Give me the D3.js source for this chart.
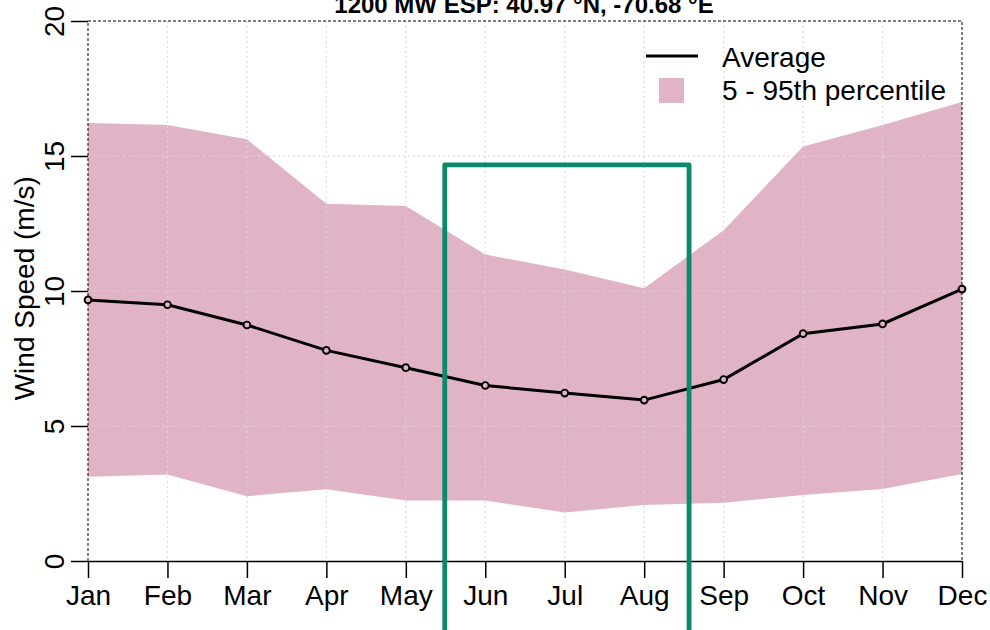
<!DOCTYPE html>
<html>
<head>
<meta charset="utf-8">
<title>1200 MW ESP wind speed</title>
<script src="https://d3js.org/d3.v7.min.js"></script>
<style>
  body { margin: 0; background: #fff; }
  text { font-family: "Liberation Sans", Arial, sans-serif; fill: #000; }
</style>
</head>
<body>
<svg width="990" height="630"></svg>
<script>
var months = ["Jan","Feb","Mar","Apr","May","Jun","Jul","Aug","Sep","Oct","Nov","Dec"]
var average = [9.67, 9.49, 8.74, 7.8, 7.16, 6.5, 6.22, 5.96, 6.72, 8.42, 8.78, 10.07]
var p5  = [3.12, 3.2, 2.4, 2.66, 2.24, 2.24, 1.8, 2.07, 2.16, 2.44, 2.67, 3.22]
var p95 = [16.22, 16.15, 15.62, 13.23, 13.15, 11.35, 10.8, 10.1, 12.25, 15.35, 16.15, 17.0]
var yTicks = [0, 5, 10, 15, 20]
// highlighted summer window: [x start, x end] in month units, top in m/s
var boxX = [5.49, 8.565]
var boxTop = 14.67

var fs = 28
var svg = d3.select("svg")
var x = d3.scaleLinear().domain([1, 12]).range([88, 962])
var y = d3.scaleLinear().domain([0, 20]).range([561, 21])
var idx = d3.range(1, 13)

function grid(col, op) {
  svg.append("g").selectAll("line").data(idx.slice(1, 11)).enter().append("line")
    .attr("x1", d => x(d)).attr("x2", d => x(d))
    .attr("y1", y(20)).attr("y2", y(0))
    .attr("stroke", col).attr("stroke-opacity", op).attr("stroke-dasharray", "2,3")
  svg.append("g").selectAll("line").data(yTicks.slice(1, 4)).enter().append("line")
    .attr("x1", x(1)).attr("x2", x(12))
    .attr("y1", d => y(d)).attr("y2", d => y(d))
    .attr("stroke", col).attr("stroke-opacity", op).attr("stroke-dasharray", "2,3")
}

grid("#cfcfcf", 1)

// percentile band
var area = d3.area()
  .x((d, i) => x(i + 1))
  .y0((d, i) => y(p5[i]))
  .y1((d, i) => y(p95[i]))
svg.append("path").datum(months).attr("d", area).attr("fill", "#e0b3c6")

// faint grid over the band
grid("#ece6e9", 0.6)

// dashed box: top, left, right
svg.append("path")
  .attr("d", "M" + x(1) + "," + y(0) + "V" + y(20) + "H" + x(12) + "V" + y(0))
  .attr("fill", "none").attr("stroke", "#000").attr("stroke-width", 1)
  .attr("stroke-dasharray", "3,2")

// axes
var xAxis = svg.append("g").attr("transform", "translate(0," + y(0) + ")")
  .call(d3.axisBottom(x).tickValues(idx).tickFormat((d, i) => months[i]).tickSize(17).tickSizeOuter(0))
xAxis.select(".domain").attr("stroke-width", 1.5)
xAxis.selectAll(".tick line").attr("stroke-width", 1.5)
xAxis.selectAll("text").attr("font-size", fs).attr("dy", 0).attr("y", 44)
  .style("font-family", "Liberation Sans, Arial, sans-serif")

var yAxis = svg.append("g").attr("transform", "translate(" + x(1) + ",0)")
  .call(d3.axisLeft(y).tickValues(yTicks).tickSize(17).tickSizeOuter(0))
yAxis.select(".domain").remove()
yAxis.selectAll(".tick line").attr("stroke-width", 1.5)
yAxis.selectAll("text")
  .attr("font-size", fs).attr("x", null).attr("dy", 0)
  .attr("text-anchor", "middle")
  .attr("transform", "translate(-24,0) rotate(-90)")
  .style("font-family", "Liberation Sans, Arial, sans-serif")

svg.append("text")
  .attr("transform", "translate(34," + y(10.1) + ") rotate(-90)")
  .attr("text-anchor", "middle").attr("font-size", fs)
  .text("Wind Speed (m/s)")

// average line
svg.append("path").datum(average)
  .attr("d", d3.line().x((d, i) => x(i + 1)).y(d => y(d)))
  .attr("fill", "none").attr("stroke", "#000").attr("stroke-width", 3)
svg.append("g").selectAll("circle").data(average).enter().append("circle")
  .attr("cx", (d, i) => x(i + 1)).attr("cy", d => y(d)).attr("r", 3.4)
  .attr("fill", "#e0b3c6").attr("stroke", "#000").attr("stroke-width", 1.9)

// highlight window
svg.append("path")
  .attr("d", "M" + x(boxX[0]) + "," + y(-4) + "V" + y(boxTop) + "H" + x(boxX[1]) + "V" + y(-4))
  .attr("fill", "none").attr("stroke", "#0b8a6b").attr("stroke-width", 4.8)
  .attr("stroke-linejoin", "round")

// title
svg.append("text").attr("x", 524).attr("y", 13).attr("text-anchor", "middle")
  .attr("font-size", 24).attr("font-weight", "bold")
  .text("1200 MW ESP: 40.97 °N, -70.68 °E")

// legend
var lg = svg.append("g")
lg.append("line").attr("x1", 646).attr("x2", 698).attr("y1", 56).attr("y2", 56)
  .attr("stroke", "#000").attr("stroke-width", 3)
lg.append("rect").attr("x", 659).attr("y", 78).attr("width", 25).attr("height", 25)
  .attr("fill", "#e0b3c6")
lg.append("text").attr("x", 722).attr("y", 67).attr("font-size", fs).text("Average")
lg.append("text").attr("x", 722).attr("y", 100).attr("font-size", fs).text("5 - 95th percentile")
</script>
</body>
</html>
